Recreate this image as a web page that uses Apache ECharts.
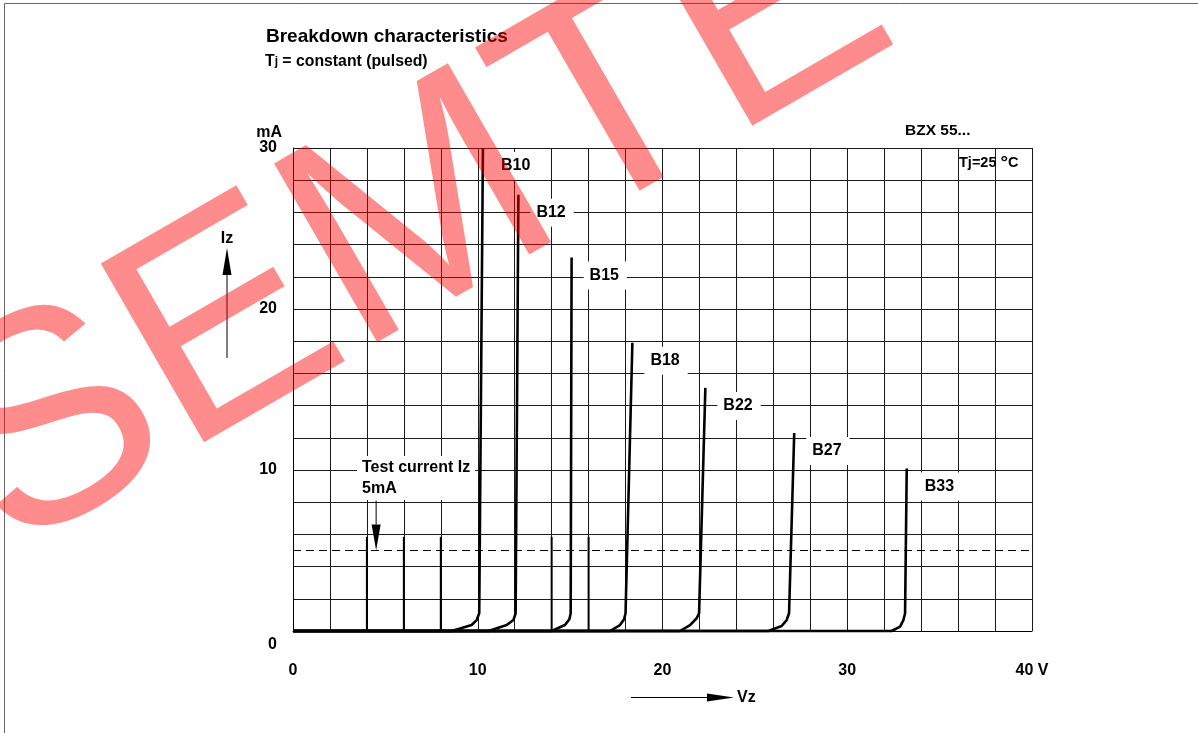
<!DOCTYPE html>
<html><head><meta charset="utf-8">
<script src="https://cdn.jsdelivr.net/npm/echarts@6/dist/echarts.min.js"></script>
<style>html,body{margin:0;padding:0;background:#fff;}#c{width:1198px;height:733px;}</style>
</head><body><div id="c"></div>
<script>
const FONT = '"Liberation Sans", Arial, Helvetica, sans-serif';

// ---- data ----
const curveNames = ['B10', 'B12', 'B15', 'B18', 'B22', 'B27', 'B33'];
const curveVoltage = [
  [0, 8.59, 9.67, 9.94, 10.08, 10.28],
  [0, 10.58, 11.57, 11.93, 12.05, 12.20],
  [0, 14.00, 14.72, 14.96, 15.03, 15.08],
  [0, 17.16, 17.70, 17.92, 18.00, 18.37],
  [0, 20.95, 21.49, 21.85, 21.98, 22.32],
  [0, 25.73, 26.45, 26.72, 26.85, 27.13],
  [0, 32.40, 32.86, 33.04, 33.13, 33.22]
];
const curveCurrent = [
  [0, 0, 0.37, 0.68, 1.1, 30.0],
  [0, 0, 0.37, 0.68, 1.1, 27.1],
  [0, 0, 0.37, 0.73, 1.1, 23.2],
  [0, 0, 0.37, 0.73, 1.1, 17.9],
  [0, 0, 0.37, 0.79, 1.1, 15.1],
  [0, 0, 0.31, 0.68, 1.1, 12.3],
  [0, 0, 0.27, 0.68, 1.1, 10.1]
];
const testCurrent = 5;          // mA, dashed line
const testArrow = [4.5, 8.1, 5]; // V, from mA, to mA
const stubVoltages = [4, 6, 8, 14, 16];
const stubTop = 5.85;
const xTickValues = [0, 10, 20, 30, 40];
const xTickLabels = ['0', '10', '20', '30', '40 V'];
const yTickValues = [0, 10, 20, 30];
const yTickLabels = ['0', '10', '20', '30'];

const chart = echarts.init(document.getElementById('c'), null, {renderer: 'canvas'});

const lbl = {fontFamily: FONT, fontWeight: 'bold', fontSize: 16, color: '#000'};

const curveSeries = curveNames.map((name, i) => ({
  name: name,
  type: 'line',
  data: curveVoltage[i].map((v, k) => [v, curveCurrent[i][k]]),
  symbol: 'none',
  z: 4,
  clip: false,
  lineStyle: {color: '#000', width: 2.6},
  endLabel: {
    show: true,
    formatter: '{a}',
    distance: 12,
    offset: [0, 18],
    backgroundColor: '#fff',
    padding: [6, 8, 6, 6],
    fontFamily: FONT, fontWeight: 'bold', fontSize: 16, color: '#000'
  }
}));

const option = {
  animation: false,
  backgroundColor: '#fff',
  grid: {left: 293, right: 166, top: 148, bottom: 102, containLabel: false},
  xAxis: {
    type: 'value', min: 0, max: 40, interval: 2,
    axisLine: {show: true, lineStyle: {color: '#000', width: 1}},
    axisTick: {show: false},
    splitLine: {show: true, lineStyle: {color: '#1a1a1a', width: 1}},
    axisLabel: {
      ...lbl, margin: 32,
      formatter: v => { const k = xTickValues.indexOf(v); return k >= 0 ? xTickLabels[k] : ''; }
    }
  },
  yAxis: {
    type: 'value', min: 0, max: 30, interval: 2,
    name: 'mA', nameLocation: 'end', nameGap: 7,
    nameTextStyle: {...lbl, align: 'right', padding: [0, 11, 0, 0]},
    axisLine: {show: true, lineStyle: {color: '#000', width: 1}},
    axisTick: {show: false},
    splitLine: {show: true, lineStyle: {color: '#1a1a1a', width: 1}},
    axisLabel: {
      ...lbl, margin: 16,
      formatter: v => {
        const k = yTickValues.indexOf(v);
        if (k < 0) return '';
        return v === 0 ? '{z|' + yTickLabels[k] + '}' : yTickLabels[k];
      },
      rich: {z: {...lbl, padding: [28, 0, 0, 0]}}
    }
  },
  series: [
    {
      name: 'test current', type: 'line', symbol: 'none', z: 3,
      data: [[0, testCurrent], [40, testCurrent]],
      lineStyle: {color: '#000', width: 1, type: [8, 5]}
    },
    {
      name: 'stubs', type: 'custom', z: 3,
      data: stubVoltages.map(v => [v, stubTop]),
      renderItem: (params, api) => {
        const p0 = api.coord([api.value(0), 0]);
        const p1 = api.coord([api.value(0), api.value(1)]);
        return {type: 'line', shape: {x1: p0[0], y1: p0[1], x2: p1[0], y2: p1[1]},
                style: {stroke: '#000', lineWidth: 2}};
      }
    },
    {
      name: 'arrow', type: 'custom', z: 5,
      data: [testArrow],
      renderItem: (params, api) => {
        const tail = api.coord([api.value(0), api.value(1)]);
        const tip = api.coord([api.value(0), api.value(2)]);
        const h = 26, w = 4.5;
        return {type: 'group', children: [
          {type: 'line', shape: {x1: tail[0], y1: tail[1], x2: tip[0], y2: tip[1] - h},
           style: {stroke: '#000', lineWidth: 1}},
          {type: 'polygon', shape: {points: [[tip[0] - w, tip[1] - h], [tip[0] + w, tip[1] - h], [tip[0], tip[1]]]},
           style: {fill: '#000'}}
        ]};
      }
    },
    ...curveSeries
  ],
  graphic: [
    {type: 'rect', z: 1, silent: true, shape: {x: 4.5, y: 3.5, width: 1400, height: 900},
     style: {fill: 'transparent', stroke: '#666', lineWidth: 1}},
    {type: 'text', x: 266, y: 37, z: 5,
     style: {text: 'Breakdown characteristics', font: 'bold 19px ' + FONT, fill: '#000',
             align: 'left', textAlign: 'left', verticalAlign: 'middle', textVerticalAlign: 'middle'}},
    {type: 'text', x: 265, y: 62, z: 5,
     style: {text: '{a|T}{b|j}{a| = constant (pulsed)}', fill: '#000',
             align: 'left', textAlign: 'left', verticalAlign: 'middle', textVerticalAlign: 'middle',
             rich: {a: {fontFamily: FONT, fontWeight: 'bold', fontSize: 15.8, fill: '#000'},
                    b: {fontFamily: FONT, fontWeight: 'bold', fontSize: 12, fill: '#000'}}}},
    {type: 'text', x: 905, y: 131, z: 5,
     style: {text: 'BZX 55...', font: 'bold 15.5px ' + FONT, fill: '#000',
             align: 'left', textAlign: 'left', verticalAlign: 'middle', textVerticalAlign: 'middle'}},
    {type: 'text', x: 959, y: 163, z: 5,
     style: {text: '{a|Tj=25 }{d|°}{a|C}', fill: '#000',
             align: 'left', textAlign: 'left', verticalAlign: 'middle', textVerticalAlign: 'middle',
             rich: {a: {fontFamily: FONT, fontWeight: 'bold', fontSize: 14.5, fill: '#000'},
                    d: {fontFamily: FONT, fontWeight: 'bold', fontSize: 19, fill: '#000'}}}},
    {type: 'text', x: 357, y: 478, z: 5,
     style: {text: 'Test current Iz\n5mA', font: 'bold 16px ' + FONT, fill: '#000', lineHeight: 21,
             backgroundColor: '#fff', padding: [2, 5, 0, 5],
             align: 'left', textAlign: 'left', verticalAlign: 'middle', textVerticalAlign: 'middle'}},
    // Iz arrow
    {type: 'text', x: 227, y: 239, z: 5,
     style: {text: 'Iz', font: 'bold 16px ' + FONT, fill: '#000',
             align: 'center', textAlign: 'center', verticalAlign: 'middle', textVerticalAlign: 'middle'}},
    {type: 'line', z: 5, shape: {x1: 227, y1: 358, x2: 227, y2: 272}, style: {stroke: '#000', lineWidth: 1}},
    {type: 'polygon', z: 5, shape: {points: [[222.5, 275], [231.5, 275], [227, 248]]}, style: {fill: '#000'}},
    // Vz arrow
    {type: 'line', z: 5, shape: {x1: 631, y1: 697.5, x2: 710, y2: 697.5}, style: {stroke: '#000', lineWidth: 1}},
    {type: 'polygon', z: 5, shape: {points: [[707, 693.5], [707, 701.5], [734, 697.5]]}, style: {fill: '#000'}},
    {type: 'text', x: 737, y: 698, z: 5,
     style: {text: 'Vz', font: 'bold 16px ' + FONT, fill: '#000',
             align: 'left', textAlign: 'left', verticalAlign: 'middle', textVerticalAlign: 'middle'}},
    // watermark
    {type: 'text', x: -32, y: 483, rotation: 30 * Math.PI / 180, z: 100, silent: true,
     style: {text: 'SEMTECH', font: '300px ' + FONT, fill: 'rgba(255,0,0,0.45)',
             align: 'left', textAlign: 'left', verticalAlign: 'middle', textVerticalAlign: 'middle'}}
  ]
};
chart.setOption(option);
</script>
</body></html>
